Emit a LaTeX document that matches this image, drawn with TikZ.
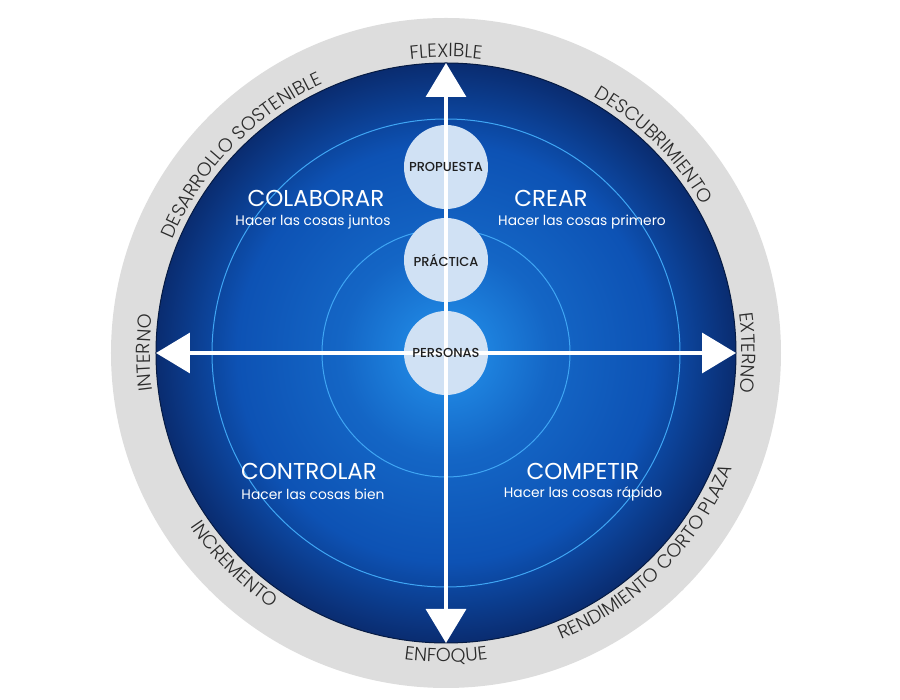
\documentclass[tikz,border=0pt]{standalone}
\usepackage{fontspec}
\setmainfont{Poppins}
\newfontfamily\lightfont{Poppins Light}
\newfontfamily\mediumfont{Poppins Medium}
\usetikzlibrary{arrows.meta,decorations.text}
\definecolor{ringgray}{HTML}{DDDDDD}
\definecolor{bcenter}{HTML}{2494EE}
\definecolor{bmid}{HTML}{0D52B4}
\definecolor{bouter}{HTML}{0A2C70}
\definecolor{ringline}{HTML}{3FA6F4}
\definecolor{bubble}{HTML}{D0E1F4}
\definecolor{labeltext}{HTML}{2B2B2B}
\pgfdeclareradialshading{blueglow}{\pgfpoint{0bp}{0bp}}{color(0bp)=(bcenter); color(9bp)=(bmid!70!bcenter); color(18bp)=(bmid); color(25bp)=(bouter); color(50bp)=(bouter)}
\tikzset{
  bubblestyle/.style={circle, fill=bubble, minimum size=84pt, inner sep=0pt},
  bubbletext/.style={font=\mediumfont\fontsize{13}{13}\selectfont, text=black!88},
  axisline/.style={white, line width=3.5pt, {Triangle[width=40pt,length=34pt]}-{Triangle[width=40pt,length=34pt]}},
  quadtitle/.style={text=white, font=\fontsize{23}{23}\selectfont},
  quadsub/.style={text=white, font=\fontsize{13.8}{13.8}\selectfont},
  cwtext/.style={decorate, decoration={text along path, text align=center, text color=labeltext, text={|\lightfont\fontsize{19}{19}\selectfont|#1}}},
  ccwtext/.style={decorate, decoration={text along path, text align=center, text color=labeltext, text={|\lightfont\fontsize{19}{19}\selectfont|#1}}}
}
\begin{document}
\begin{tikzpicture}[x=1pt,y=1pt]
\useasboundingbox (-446,-347) rectangle (454,353);
% rings
\fill[ringgray] (0,0) circle (335);
\shade[shading=blueglow] (0,0) circle (290);
\draw[bouter!60!black, line width=1pt] (0,0) circle (290);
\draw[ringline, line width=1pt] (0,0) circle (234);
\draw[ringline, line width=1pt] (0,0) circle (124);
% bubbles
\node[bubblestyle] (prop) at (0,186) {};
\node[bubblestyle] (prac) at (0,93) {};
\node[bubblestyle] (pers) at (0,0) {};
% axes
\coordinate (top) at (0,290);
\coordinate (bot) at (0,-290);
\coordinate (lft) at (-290,0);
\coordinate (rgt) at (290,0);
\draw[axisline] (bot) -- (top);
\draw[axisline] (lft) -- (rgt);
% bubble labels
\node[bubbletext] (propt) at (prop) {PROPUESTA};
\node[bubbletext] (pract) at (prac) {PRÁCTICA};
\node[bubbletext] (perst) at (pers) {PERSONAS};
% quadrant labels
\node[quadtitle] (colab) at (-130,155) {COLABORAR};
\node[quadsub] (colabs) at (-133,131) {Hacer las cosas juntos};
\node[quadtitle] (crear) at (105,155) {CREAR};
\node[quadsub] (crears) at (136,131) {Hacer las cosas primero};
\node[quadtitle] (contr) at (-137,-118) {CONTROLAR};
\node[quadsub] (contrs) at (-133,-141) {Hacer las cosas bien};
\node[quadtitle] (compe) at (137,-118) {COMPETIR};
\node[quadsub] (compes) at (137,-141) {Hacer las cosas rápido};
% ring labels (clockwise, upper half and sides)
\path[cwtext={FLEXIBLE}] (150:296) arc[start angle=150, end angle=30, radius=296];
\path[cwtext={DESARROLLO SOSTENIBLE}] (196:296) arc[start angle=196, end angle=76, radius=296];
\path[cwtext={DESCUBRIMIENTO}] (105:296) arc[start angle=105, end angle=-15, radius=296];
\path[cwtext={INTERNO}] (240:296) arc[start angle=240, end angle=120, radius=296];
\path[cwtext={EXTERNO}] (60:296) arc[start angle=60, end angle=-60, radius=296];
% ring labels (counter-clockwise, lower half)
\path[ccwtext={ENFOQUE}] (210:309) arc[start angle=210, end angle=330, radius=309];
\path[ccwtext={INCREMENTO}] (165:309) arc[start angle=165, end angle=285, radius=309];
\path[ccwtext={RENDIMIENTO CORTO PLAZA}] (255:309) arc[start angle=255, end angle=375, radius=309];
\end{tikzpicture}
\end{document}
